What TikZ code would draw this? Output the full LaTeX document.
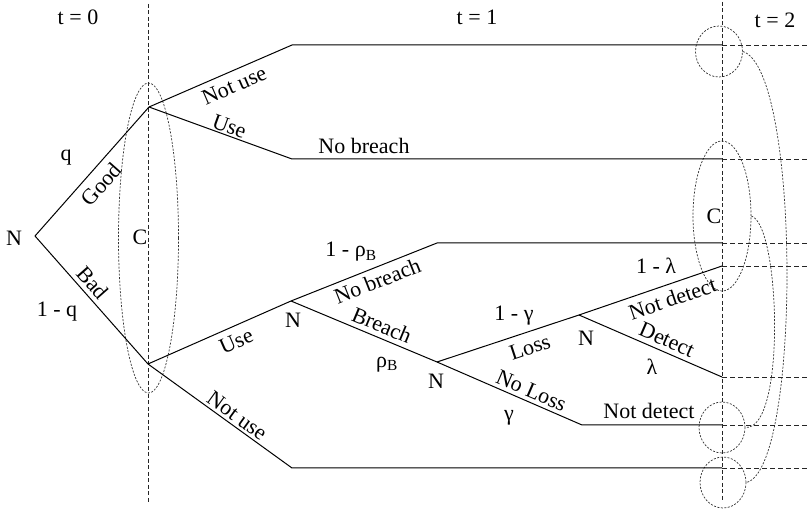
\documentclass[tikz,border=0pt]{standalone}
\usepackage{fontspec}
\setmainfont{Liberation Serif}
\usetikzlibrary{shapes.geometric}
\begin{document}
\begin{tikzpicture}[x=1pt,y=-1pt,
  lbl/.style={font=\fontsize{22}{26}\selectfont, inner sep=0pt},
  sl/.style={lbl, sloped, pos=#1},
  branch/.style={line width=1pt, black},
  sep/.style={line width=0.8pt, black!85, dash pattern=on 4pt off 2.5pt},
  cont/.style={line width=0.8pt, black!85, dash pattern=on 5pt off 3pt},
  grp/.style={ellipse, draw, line width=0.7pt, black!80, dash pattern=on 2pt off 1.5pt, inner sep=0pt},
  link/.style={line width=0.7pt, black!80, dash pattern=on 2pt off 1.5pt}
]
\useasboundingbox (0,0) rectangle (807,510);
\fill[white] (0,0) rectangle (807,510);

% time separators
\coordinate (s0t) at (148,4);
\coordinate (s0b) at (148,502);
\coordinate (s2t) at (722,2);
\coordinate (s2b) at (722,500);
\draw[sep] (s0t) -- (s0b);
\draw[sep] (s2t) -- (s2b);

% branch points
\coordinate (root) at (35,236);
\coordinate (g) at (149,107);
\coordinate (b) at (148,364);
\coordinate (tu1) at (292,45);
\coordinate (tu2) at (292,159);
\coordinate (n1) at (291,301);
\coordinate (bn) at (292,468);
\coordinate (nb) at (437,243);
\coordinate (n2) at (437,362);
\coordinate (n3) at (579,315);
\coordinate (nl) at (582,425);
% ends at t = 2
\coordinate (e1) at (722,45);
\coordinate (e2) at (722,159);
\coordinate (e3) at (722,243);
\coordinate (e4) at (722,266);
\coordinate (e5) at (722,377);
\coordinate (e6) at (722,425);
\coordinate (e7) at (722,468);
\coordinate (f1) at (807,45);
\coordinate (f2) at (807,159);
\coordinate (f3) at (807,243);
\coordinate (f4) at (807,266);
\coordinate (f5) at (807,377);
\coordinate (f6) at (807,425);
\coordinate (f7) at (807,468);

% information sets
\node[grp, minimum width=60pt, minimum height=310pt] (c1) at (148.5,238) {};
\node[grp, minimum width=47pt, minimum height=51pt] (i1) at (719,51.5) {};
\node[grp, minimum width=58pt, minimum height=150pt] (c2) at (722,216) {};
\node[grp, minimum width=46pt, minimum height=51pt] (i3) at (722,427.5) {};
\node[grp, minimum width=46pt, minimum height=51pt] (i4) at (723,482.5) {};
\draw[link] (i1.east) .. controls +(58,18) and +(55,-13) .. (i4.east);
\draw[link] (c2.east) .. controls +(29,9) and +(41,3) .. (i3.east);

% tree
\draw[branch] (root) -- node[sl=0.48, below=7pt]{Good} (g);
\draw[branch] (root) -- node[sl=0.43, above=4.5pt]{Bad} (b);
\draw[branch] (g) -- node[sl=0.556, below=6.5pt]{Not use} (tu1) -- (e1);
\draw[branch] (g) -- node[sl=0.54, above=1.5pt]{Use} (tu2) -- (e2);
\draw[branch] (b) -- node[sl=0.575, below=7pt]{Use} (n1);
\draw[branch] (b) -- node[sl=0.577, above=2.5pt]{Not use} (bn) -- (e7);
\draw[branch] (n1) -- node[sl=0.558, below=5pt]{No breach} (nb) -- (e3);
\draw[branch] (n1) -- node[sl=0.59, above=4.5pt]{Breach} (n2);
\draw[branch] (n2) -- node[sl=0.62, below=7.5pt]{Loss} (n3);
\draw[branch] (n2) -- node[sl=0.62, above=3.5pt]{No Loss} (nl) -- (e6);
\draw[branch] (n3) -- node[sl=0.62, below=6.5pt]{Not detect} (e4);
\draw[branch] (n3) -- node[sl=0.58, above=4.5pt]{Detect} (e5);

% continuation past t = 2
\draw[cont] (e1) -- (f1);
\draw[cont] (e2) -- (f2);
\draw[cont] (e3) -- (f3);
\draw[cont] (e4) -- (f4);
\draw[cont] (e5) -- (f5);
\draw[cont] (e6) -- (f6);
\draw[cont] (e7) -- (f7);

% labels
\node[lbl] (t0) at (78,17) {t = 0};
\node[lbl] (t1) at (477,17) {t = 1};
\node[lbl] (t2) at (775,20) {t = 2};
\node[lbl] (nroot) at (14,238) {N};
\node[lbl] (pq) at (66,158) {q};
\node[lbl] (p1q) at (57,312) {1 - q};
\node[lbl] (cl) at (140,237) {C};
\node[lbl] (nbt) at (364,146) {No breach};
\node[lbl] (nn1) at (293,320) {N};
\node[lbl] (prho1) at (351,252) {1 - ρ\textsubscript{B}};
\node[lbl] (prho) at (387,365) {ρ\textsubscript{B}};
\node[lbl] (nn2) at (436,381) {N};
\node[lbl] (pg1) at (514,316) {1 - γ};
\node[lbl] (pg) at (509,418) {γ};
\node[lbl] (nn3) at (586,338) {N};
\node[lbl] (pl1) at (656,266) {1 - λ};
\node[lbl] (pl) at (652,367) {λ};
\node[lbl] (ndh) at (649,411) {Not detect};
\node[lbl] (cr) at (714,216) {C};
\end{tikzpicture}
\end{document}
